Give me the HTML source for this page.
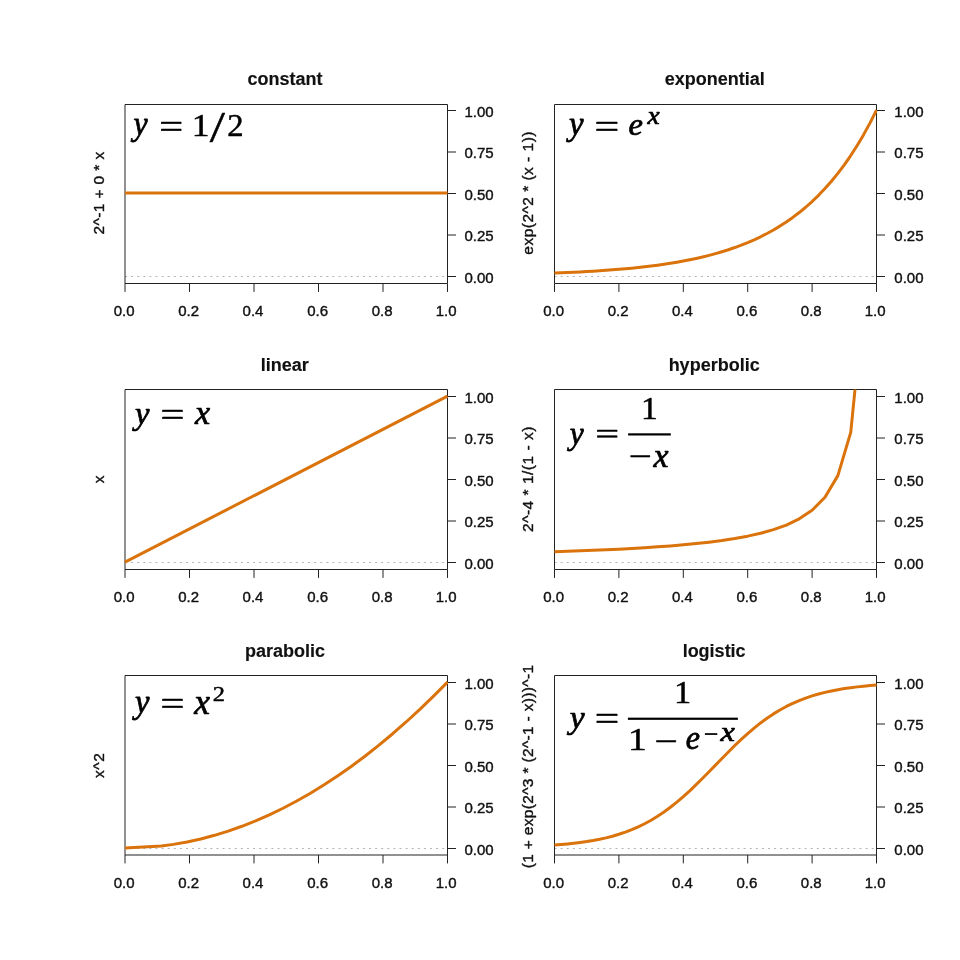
<!DOCTYPE html><html><head><meta charset="utf-8"><title>Function shapes</title><style>html,body{margin:0;padding:0;background:#fff;width:960px;height:960px;overflow:hidden}svg{display:block;will-change:transform}.s{font-family:"Liberation Sans",sans-serif;fill:#111;stroke:#111;stroke-linejoin:round}.m{font-family:"Liberation Serif",serif;fill:#000;stroke:#000;stroke-linejoin:round}</style></head><body>
<svg width="960" height="960" viewBox="0 0 960 960">
<rect width="960" height="960" fill="#fff"/>
<defs><clipPath id="c0"><rect x="124.0" y="104.5" width="324.5" height="179.0"/></clipPath></defs>
<line x1="125.0" y1="276.5" x2="447.5" y2="276.5" stroke="#b4b4b4" stroke-width="1" stroke-dasharray="2 4.1"/>
<path d="M125.0 104.5H447.5V283.5H125.0Z" fill="none" stroke="#222" stroke-width="1"/>
<path d="M125.00 283.5V291.9M189.50 283.5V291.9M254.00 283.5V291.9M318.50 283.5V291.9M383.00 283.5V291.9M447.50 283.5V291.9" stroke="#222" stroke-width="1"/>
<path d="M447.5 276.50H456.0M447.5 235.00H456.0M447.5 193.50H456.0M447.5 152.00H456.0M447.5 110.50H456.0" stroke="#222" stroke-width="1"/>
<defs><clipPath id="c1"><rect x="553.5" y="104.5" width="324.0" height="179.0"/></clipPath></defs>
<line x1="554.5" y1="276.5" x2="876.5" y2="276.5" stroke="#b4b4b4" stroke-width="1" stroke-dasharray="2 4.1"/>
<path d="M554.5 104.5H876.5V283.5H554.5Z" fill="none" stroke="#222" stroke-width="1"/>
<path d="M554.50 283.5V291.9M618.90 283.5V291.9M683.30 283.5V291.9M747.70 283.5V291.9M812.10 283.5V291.9M876.50 283.5V291.9" stroke="#222" stroke-width="1"/>
<path d="M876.5 276.50H885.0M876.5 235.00H885.0M876.5 193.50H885.0M876.5 152.00H885.0M876.5 110.50H885.0" stroke="#222" stroke-width="1"/>
<defs><clipPath id="c2"><rect x="124.0" y="389.5" width="324.5" height="180.0"/></clipPath></defs>
<line x1="125.0" y1="562.5" x2="447.5" y2="562.5" stroke="#b4b4b4" stroke-width="1" stroke-dasharray="2 4.1"/>
<path d="M125.0 389.5H447.5V569.5H125.0Z" fill="none" stroke="#222" stroke-width="1"/>
<path d="M125.00 569.5V577.9M189.50 569.5V577.9M254.00 569.5V577.9M318.50 569.5V577.9M383.00 569.5V577.9M447.50 569.5V577.9" stroke="#222" stroke-width="1"/>
<path d="M447.5 562.50H456.0M447.5 521.00H456.0M447.5 479.50H456.0M447.5 438.00H456.0M447.5 396.50H456.0" stroke="#222" stroke-width="1"/>
<defs><clipPath id="c3"><rect x="553.5" y="389.5" width="324.0" height="180.0"/></clipPath></defs>
<line x1="554.5" y1="562.5" x2="876.5" y2="562.5" stroke="#b4b4b4" stroke-width="1" stroke-dasharray="2 4.1"/>
<path d="M554.5 389.5H876.5V569.5H554.5Z" fill="none" stroke="#222" stroke-width="1"/>
<path d="M554.50 569.5V577.9M618.90 569.5V577.9M683.30 569.5V577.9M747.70 569.5V577.9M812.10 569.5V577.9M876.50 569.5V577.9" stroke="#222" stroke-width="1"/>
<path d="M876.5 562.50H885.0M876.5 521.00H885.0M876.5 479.50H885.0M876.5 438.00H885.0M876.5 396.50H885.0" stroke="#222" stroke-width="1"/>
<defs><clipPath id="c4"><rect x="124.0" y="675.5" width="324.5" height="179.5"/></clipPath></defs>
<line x1="125.0" y1="848.5" x2="447.5" y2="848.5" stroke="#b4b4b4" stroke-width="1" stroke-dasharray="2 4.1"/>
<path d="M125.0 675.5H447.5V855.0H125.0Z" fill="none" stroke="#222" stroke-width="1"/>
<path d="M125.00 855.0V863.4M189.50 855.0V863.4M254.00 855.0V863.4M318.50 855.0V863.4M383.00 855.0V863.4M447.50 855.0V863.4" stroke="#222" stroke-width="1"/>
<path d="M447.5 848.50H456.0M447.5 807.00H456.0M447.5 765.50H456.0M447.5 724.00H456.0M447.5 682.50H456.0" stroke="#222" stroke-width="1"/>
<defs><clipPath id="c5"><rect x="553.5" y="675.5" width="324.0" height="179.5"/></clipPath></defs>
<line x1="554.5" y1="848.5" x2="876.5" y2="848.5" stroke="#b4b4b4" stroke-width="1" stroke-dasharray="2 4.1"/>
<path d="M554.5 675.5H876.5V855.0H554.5Z" fill="none" stroke="#222" stroke-width="1"/>
<path d="M554.50 855.0V863.4M618.90 855.0V863.4M683.30 855.0V863.4M747.70 855.0V863.4M812.10 855.0V863.4M876.50 855.0V863.4" stroke="#222" stroke-width="1"/>
<path d="M876.5 848.50H885.0M876.5 807.00H885.0M876.5 765.50H885.0M876.5 724.00H885.0M876.5 682.50H885.0" stroke="#222" stroke-width="1"/>
<polyline clip-path="url(#c0)" points="125.00,193.10 447.50,193.10" fill="none" stroke="#DA730B" stroke-width="3" stroke-linejoin="round"/><polyline clip-path="url(#c1)" points="554.50,273.06 560.94,272.81 567.38,272.53 573.82,272.23 580.26,271.91 586.70,271.56 593.14,271.19 599.58,270.78 606.02,270.33 612.46,269.85 618.90,269.33 625.34,268.77 631.78,268.16 638.22,267.50 644.66,266.78 651.10,266.01 657.54,265.16 663.98,264.25 670.42,263.27 676.86,262.20 683.30,261.04 689.74,259.79 696.18,258.43 702.62,256.96 709.06,255.36 715.50,253.63 721.94,251.76 728.38,249.74 734.82,247.54 741.26,245.16 747.70,242.59 754.14,239.79 760.58,236.77 767.02,233.49 773.46,229.95 779.90,226.10 786.34,221.94 792.78,217.43 799.22,212.54 805.66,207.25 812.10,201.51 818.54,195.30 824.98,188.57 831.42,181.28 837.86,173.38 844.30,164.83 850.74,155.56 857.18,145.52 863.62,134.64 870.06,122.86 876.50,110.10" fill="none" stroke="#DA730B" stroke-width="3" stroke-linejoin="round"/><polyline clip-path="url(#c2)" points="125.00,562.10 447.50,396.10" fill="none" stroke="#DA730B" stroke-width="3" stroke-linejoin="round"/><polyline clip-path="url(#c3)" points="554.50,551.73 567.38,551.29 580.26,550.82 593.14,550.31 606.02,549.75 618.90,549.13 631.78,548.45 644.66,547.69 657.54,546.84 670.42,545.89 683.30,544.81 696.18,543.57 709.06,542.15 721.94,540.49 734.82,538.52 747.70,536.16 760.58,533.28 773.46,529.68 786.34,525.05 799.22,518.87 812.10,510.23 824.98,497.26 837.86,475.64 850.74,432.41 863.62,302.73 876.50,-7737.90" fill="none" stroke="#DA730B" stroke-width="3" stroke-linejoin="round"/><polyline clip-path="url(#c4)" points="125.00,848.10 161.44,845.98 173.38,844.37 187.08,841.95 200.79,838.93 214.49,835.32 228.20,831.10 241.91,826.29 255.61,820.87 269.32,814.86 283.02,808.24 296.73,801.03 310.44,793.22 324.14,784.80 337.85,775.79 351.56,766.18 365.26,755.97 378.97,745.15 392.68,733.74 406.38,721.73 420.09,709.12 433.79,695.91 447.50,682.10" fill="none" stroke="#DA730B" stroke-width="3" stroke-linejoin="round"/><polyline clip-path="url(#c5)" points="554.50,845.11 560.94,844.61 567.38,844.02 573.82,843.33 580.26,842.53 586.70,841.60 593.14,840.52 599.58,839.28 606.02,837.84 612.46,836.19 618.90,834.29 625.34,832.13 631.78,829.66 638.22,826.87 644.66,823.73 651.10,820.22 657.54,816.30 663.98,811.99 670.42,807.26 676.86,802.14 683.30,796.64 689.74,790.79 696.18,784.65 702.62,778.27 709.06,771.73 715.50,765.10 721.94,758.47 728.38,751.93 734.82,745.55 741.26,739.41 747.70,733.56 754.14,728.06 760.58,722.94 767.02,718.21 773.46,713.90 779.90,709.98 786.34,706.47 792.78,703.33 799.22,700.54 805.66,698.07 812.10,695.91 818.54,694.01 824.98,692.36 831.42,690.92 837.86,689.68 844.30,688.60 850.74,687.67 857.18,686.87 863.62,686.18 870.06,685.59 876.50,685.09" fill="none" stroke="#DA730B" stroke-width="3" stroke-linejoin="round"/>
<text class="s" x="113.67" y="315.80" font-size="15" stroke-width="0.4">0.0</text><text class="s" x="178.26" y="315.80" font-size="15" stroke-width="0.4">0.2</text><text class="s" x="242.60" y="315.80" font-size="15" stroke-width="0.4">0.4</text><text class="s" x="307.21" y="315.80" font-size="15" stroke-width="0.4">0.6</text><text class="s" x="371.71" y="315.80" font-size="15" stroke-width="0.4">0.8</text><text class="s" x="435.65" y="315.80" font-size="15" stroke-width="0.4">1.0</text><text class="s" x="464.50" y="282.80" font-size="15" stroke-width="0.4">0.00</text><text class="s" x="464.50" y="241.30" font-size="15" stroke-width="0.4">0.25</text><text class="s" x="464.50" y="199.80" font-size="15" stroke-width="0.4">0.50</text><text class="s" x="464.50" y="158.30" font-size="15" stroke-width="0.4">0.75</text><text class="s" x="464.50" y="116.80" font-size="15" stroke-width="0.4">1.00</text><text class="s" x="247.51" y="85.00" font-size="18" font-weight="bold" stroke-width="0.15">constant</text><text class="s" transform="translate(103.60,233.75) rotate(-90)" x="-0.78" y="0" font-size="15.5" stroke-width="0.4" textLength="82.80" lengthAdjust="spacing">2^-1 + 0 * x</text><text class="s" x="543.17" y="315.80" font-size="15" stroke-width="0.4">0.0</text><text class="s" x="607.66" y="315.80" font-size="15" stroke-width="0.4">0.2</text><text class="s" x="671.90" y="315.80" font-size="15" stroke-width="0.4">0.4</text><text class="s" x="736.41" y="315.80" font-size="15" stroke-width="0.4">0.6</text><text class="s" x="800.81" y="315.80" font-size="15" stroke-width="0.4">0.8</text><text class="s" x="864.65" y="315.80" font-size="15" stroke-width="0.4">1.0</text><text class="s" x="894.30" y="282.80" font-size="15" stroke-width="0.4">0.00</text><text class="s" x="894.30" y="241.30" font-size="15" stroke-width="0.4">0.25</text><text class="s" x="894.30" y="199.80" font-size="15" stroke-width="0.4">0.50</text><text class="s" x="894.30" y="158.30" font-size="15" stroke-width="0.4">0.75</text><text class="s" x="894.30" y="116.80" font-size="15" stroke-width="0.4">1.00</text><text class="s" x="664.78" y="85.00" font-size="18" font-weight="bold" stroke-width="0.15">exponential</text><text class="s" transform="translate(533.10,254.00) rotate(-90)" x="-0.66" y="0" font-size="15.5" stroke-width="0.4" textLength="123.12" lengthAdjust="spacing">exp(2^2 * (x - 1))</text><text class="s" x="113.67" y="601.80" font-size="15" stroke-width="0.4">0.0</text><text class="s" x="178.26" y="601.80" font-size="15" stroke-width="0.4">0.2</text><text class="s" x="242.60" y="601.80" font-size="15" stroke-width="0.4">0.4</text><text class="s" x="307.21" y="601.80" font-size="15" stroke-width="0.4">0.6</text><text class="s" x="371.71" y="601.80" font-size="15" stroke-width="0.4">0.8</text><text class="s" x="435.65" y="601.80" font-size="15" stroke-width="0.4">1.0</text><text class="s" x="464.50" y="568.80" font-size="15" stroke-width="0.4">0.00</text><text class="s" x="464.50" y="527.30" font-size="15" stroke-width="0.4">0.25</text><text class="s" x="464.50" y="485.80" font-size="15" stroke-width="0.4">0.50</text><text class="s" x="464.50" y="444.30" font-size="15" stroke-width="0.4">0.75</text><text class="s" x="464.50" y="402.80" font-size="15" stroke-width="0.4">1.00</text><text class="s" x="260.75" y="371.00" font-size="18" font-weight="bold" stroke-width="0.15">linear</text><text class="s" transform="translate(103.60,483.10) rotate(-90)" x="-0.17" y="0" font-size="15.5" stroke-width="0.4">x</text><text class="s" x="543.17" y="601.80" font-size="15" stroke-width="0.4">0.0</text><text class="s" x="607.66" y="601.80" font-size="15" stroke-width="0.4">0.2</text><text class="s" x="671.90" y="601.80" font-size="15" stroke-width="0.4">0.4</text><text class="s" x="736.41" y="601.80" font-size="15" stroke-width="0.4">0.6</text><text class="s" x="800.81" y="601.80" font-size="15" stroke-width="0.4">0.8</text><text class="s" x="864.65" y="601.80" font-size="15" stroke-width="0.4">1.0</text><text class="s" x="894.30" y="568.80" font-size="15" stroke-width="0.4">0.00</text><text class="s" x="894.30" y="527.30" font-size="15" stroke-width="0.4">0.25</text><text class="s" x="894.30" y="485.80" font-size="15" stroke-width="0.4">0.50</text><text class="s" x="894.30" y="444.30" font-size="15" stroke-width="0.4">0.75</text><text class="s" x="894.30" y="402.80" font-size="15" stroke-width="0.4">1.00</text><text class="s" x="668.63" y="371.00" font-size="18" font-weight="bold" stroke-width="0.15">hyperbolic</text><text class="s" transform="translate(533.10,531.20) rotate(-90)" x="-0.78" y="0" font-size="15.5" stroke-width="0.4" textLength="105.34" lengthAdjust="spacing">2^-4 * 1/(1 - x)</text><text class="s" x="113.67" y="887.80" font-size="15" stroke-width="0.4">0.0</text><text class="s" x="178.26" y="887.80" font-size="15" stroke-width="0.4">0.2</text><text class="s" x="242.60" y="887.80" font-size="15" stroke-width="0.4">0.4</text><text class="s" x="307.21" y="887.80" font-size="15" stroke-width="0.4">0.6</text><text class="s" x="371.71" y="887.80" font-size="15" stroke-width="0.4">0.8</text><text class="s" x="435.65" y="887.80" font-size="15" stroke-width="0.4">1.0</text><text class="s" x="464.50" y="854.80" font-size="15" stroke-width="0.4">0.00</text><text class="s" x="464.50" y="813.30" font-size="15" stroke-width="0.4">0.25</text><text class="s" x="464.50" y="771.80" font-size="15" stroke-width="0.4">0.50</text><text class="s" x="464.50" y="730.30" font-size="15" stroke-width="0.4">0.75</text><text class="s" x="464.50" y="688.80" font-size="15" stroke-width="0.4">1.00</text><text class="s" x="244.91" y="657.00" font-size="18" font-weight="bold" stroke-width="0.15">parabolic</text><text class="s" transform="translate(103.60,777.90) rotate(-90)" x="-0.17" y="0" font-size="15.5" stroke-width="0.4" textLength="24.85" lengthAdjust="spacing">x^2</text><text class="s" x="543.17" y="887.80" font-size="15" stroke-width="0.4">0.0</text><text class="s" x="607.66" y="887.80" font-size="15" stroke-width="0.4">0.2</text><text class="s" x="671.90" y="887.80" font-size="15" stroke-width="0.4">0.4</text><text class="s" x="736.41" y="887.80" font-size="15" stroke-width="0.4">0.6</text><text class="s" x="800.81" y="887.80" font-size="15" stroke-width="0.4">0.8</text><text class="s" x="864.65" y="887.80" font-size="15" stroke-width="0.4">1.0</text><text class="s" x="894.30" y="854.80" font-size="15" stroke-width="0.4">0.00</text><text class="s" x="894.30" y="813.30" font-size="15" stroke-width="0.4">0.25</text><text class="s" x="894.30" y="771.80" font-size="15" stroke-width="0.4">0.50</text><text class="s" x="894.30" y="730.30" font-size="15" stroke-width="0.4">0.75</text><text class="s" x="894.30" y="688.80" font-size="15" stroke-width="0.4">1.00</text><text class="s" x="682.63" y="657.00" font-size="18" font-weight="bold" stroke-width="0.15">logistic</text><text class="s" transform="translate(533.10,867.40) rotate(-90)" x="-0.96" y="0" font-size="15.5" stroke-width="0.4" textLength="203.42" lengthAdjust="spacing">(1 + exp(2^3 * (2^-1 - x)))^-1</text>
<text class="m" transform="matrix(1.0609 0 0 1.1065 133.56 135.34)" x="0" y="0" font-size="30" font-style="italic" stroke-width="0.692">y</text><text class="m" transform="matrix(1.4112 0 0 1.1067 159.19 137.57)" x="0" y="0" font-size="30" stroke-width="0.477">=</text><text class="m" transform="matrix(1.1835 0 0 1.0250 191.78 135.70)" x="0" y="0" font-size="30" stroke-width="0.453">1</text><text class="m" transform="matrix(1.8236 0 0 1.4650 209.80 142.27)" x="0" y="0" font-size="30" stroke-width="0.304">/</text><text class="m" transform="matrix(1.0893 0 0 1.0220 227.36 135.70)" x="0" y="0" font-size="30" stroke-width="0.474">2</text><text class="m" transform="matrix(1.0925 0 0 1.1065 569.04 135.34)" x="0" y="0" font-size="30" font-style="italic" stroke-width="0.682">y</text><text class="m" transform="matrix(1.4613 0 0 1.1067 594.42 137.57)" x="0" y="0" font-size="30" stroke-width="0.467">=</text><text class="m" transform="matrix(1.0837 0 0 1.0396 628.60 135.10)" x="0" y="0" font-size="30" font-style="italic" stroke-width="0.706">e</text><text class="m" transform="matrix(0.9137 0 0 0.8715 647.53 123.60)" x="0" y="0" font-size="30" font-style="italic" stroke-width="0.840">x</text><text class="m" transform="matrix(1.0862 0 0 1.0867 135.02 423.76)" x="0" y="0" font-size="30" font-style="italic" stroke-width="0.690">y</text><text class="m" transform="matrix(1.4112 0 0 1.1067 160.39 426.27)" x="0" y="0" font-size="30" stroke-width="0.477">=</text><text class="m" transform="matrix(1.1365 0 0 1.1039 194.92 424.00)" x="0" y="0" font-size="30" font-style="italic" stroke-width="0.670">x</text><text class="m" transform="matrix(1.0483 0 0 1.0867 569.63 444.06)" x="0" y="0" font-size="30" font-style="italic" stroke-width="0.703">y</text><text class="m" transform="matrix(1.4112 0 0 0.9600 595.19 444.16)" x="0" y="0" font-size="30" stroke-width="0.506">=</text><rect x="628.1" y="433.30" width="42.70" height="2.2" fill="#000"/><text class="m" transform="matrix(1.1173 0 0 1.0755 640.95 418.90)" x="0" y="0" font-size="30" stroke-width="0.456">1</text><text class="m" transform="matrix(1.3610 0 0 1.0708 628.47 466.97)" x="0" y="0" font-size="30" stroke-width="0.493">−</text><text class="m" transform="matrix(1.1291 0 0 1.1111 653.41 466.70)" x="0" y="0" font-size="30" font-style="italic" stroke-width="0.670">x</text><text class="m" transform="matrix(1.0862 0 0 1.0917 135.02 712.83)" x="0" y="0" font-size="30" font-style="italic" stroke-width="0.689">y</text><text class="m" transform="matrix(1.4112 0 0 1.1067 160.39 715.27)" x="0" y="0" font-size="30" stroke-width="0.477">=</text><text class="m" transform="matrix(1.1811 0 0 1.1620 194.33 713.80)" x="0" y="0" font-size="30" font-style="italic" stroke-width="0.640">x</text><text class="m" transform="matrix(0.8149 0 0 0.7300 212.83 701.20)" x="0" y="0" font-size="30" stroke-width="0.647">2</text><text class="m" transform="matrix(1.1178 0 0 1.0818 569.80 727.90)" x="0" y="0" font-size="30" font-style="italic" stroke-width="0.682">y</text><text class="m" transform="matrix(1.4470 0 0 1.1067 594.84 730.37)" x="0" y="0" font-size="30" stroke-width="0.470">=</text><rect x="627.9" y="717.65" width="110.00" height="2.2" fill="#000"/><text class="m" transform="matrix(1.1457 0 0 1.0301 674.08 702.90)" x="0" y="0" font-size="30" stroke-width="0.460">1</text><text class="m" transform="matrix(1.2498 0 0 1.0856 627.90 749.80)" x="0" y="0" font-size="30" stroke-width="0.428">1</text><text class="m" transform="matrix(1.3754 0 0 1.0708 654.25 751.92)" x="0" y="0" font-size="30" stroke-width="0.491">−</text><text class="m" transform="matrix(1.0709 0 0 1.0881 685.76 749.18)" x="0" y="0" font-size="30" font-style="italic" stroke-width="0.695">e</text><text class="m" transform="matrix(0.8524 0 0 0.8031 704.03 742.40)" x="0" y="0" font-size="30" stroke-width="0.725">−</text><text class="m" transform="matrix(1.0845 0 0 0.9151 720.50 741.20)" x="0" y="0" font-size="30" font-style="italic" stroke-width="0.750">x</text>
</svg></body></html>
